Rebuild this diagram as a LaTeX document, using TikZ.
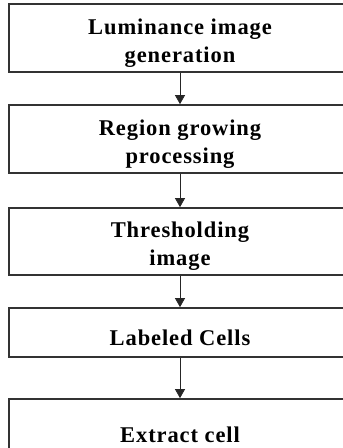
\documentclass[tikz,border=0pt]{standalone}
\usepackage{fontspec}
\newfontfamily\labfont{Liberation Serif}[LetterSpace=4]
\usetikzlibrary{arrows.meta}
\begin{document}
\begin{tikzpicture}[x=1pt,y=-1pt,
  stage/.style={draw=black!80, line width=1.1pt, fill=white, inner sep=0pt,
    minimum width=342pt},
  lab/.style={inner sep=0pt, align=center,
    font=\labfont\bfseries\fontsize{22.5}{28}\selectfont},
  flow/.style={draw=black!85, line width=0.8pt,
    -{Triangle[width=10pt,length=9pt]}, shorten >=0.3pt}]
\useasboundingbox (0,0) rectangle (343,448);
% process boxes
\node[stage, minimum height=68pt] (b1) at (180,38) {};
\node[stage, minimum height=68pt] (b2) at (180,139) {};
\node[stage, minimum height=67pt] (b3) at (180,241.5) {};
\node[stage, minimum height=49pt] (b4) at (180,332.5) {};
\node[stage, minimum height=68pt] (b5) at (180,433) {};
% box captions
\node[lab] (t1) at ([yshift=-5pt]b1.center) {Luminance image\\generation};
\node[lab] (t2) at ([yshift=-5pt]b2.center) {Region growing\\processing};
\node[lab] (t3) at ([yshift=-5pt]b3.center) {Thresholding\\image};
\node[lab] (t4) at ([yshift=-5pt]b4.center) {Labeled Cells};
\node[lab] (t5) at ([yshift=-1.5pt]b5.center) {Extract cell};
% flow arrows
\draw[flow] (b1.south) -- (b2.north);
\draw[flow] (b2.south) -- (b3.north);
\draw[flow] (b3.south) -- (b4.north);
\draw[flow] (b4.south) -- (b5.north);
\end{tikzpicture}
\end{document}
